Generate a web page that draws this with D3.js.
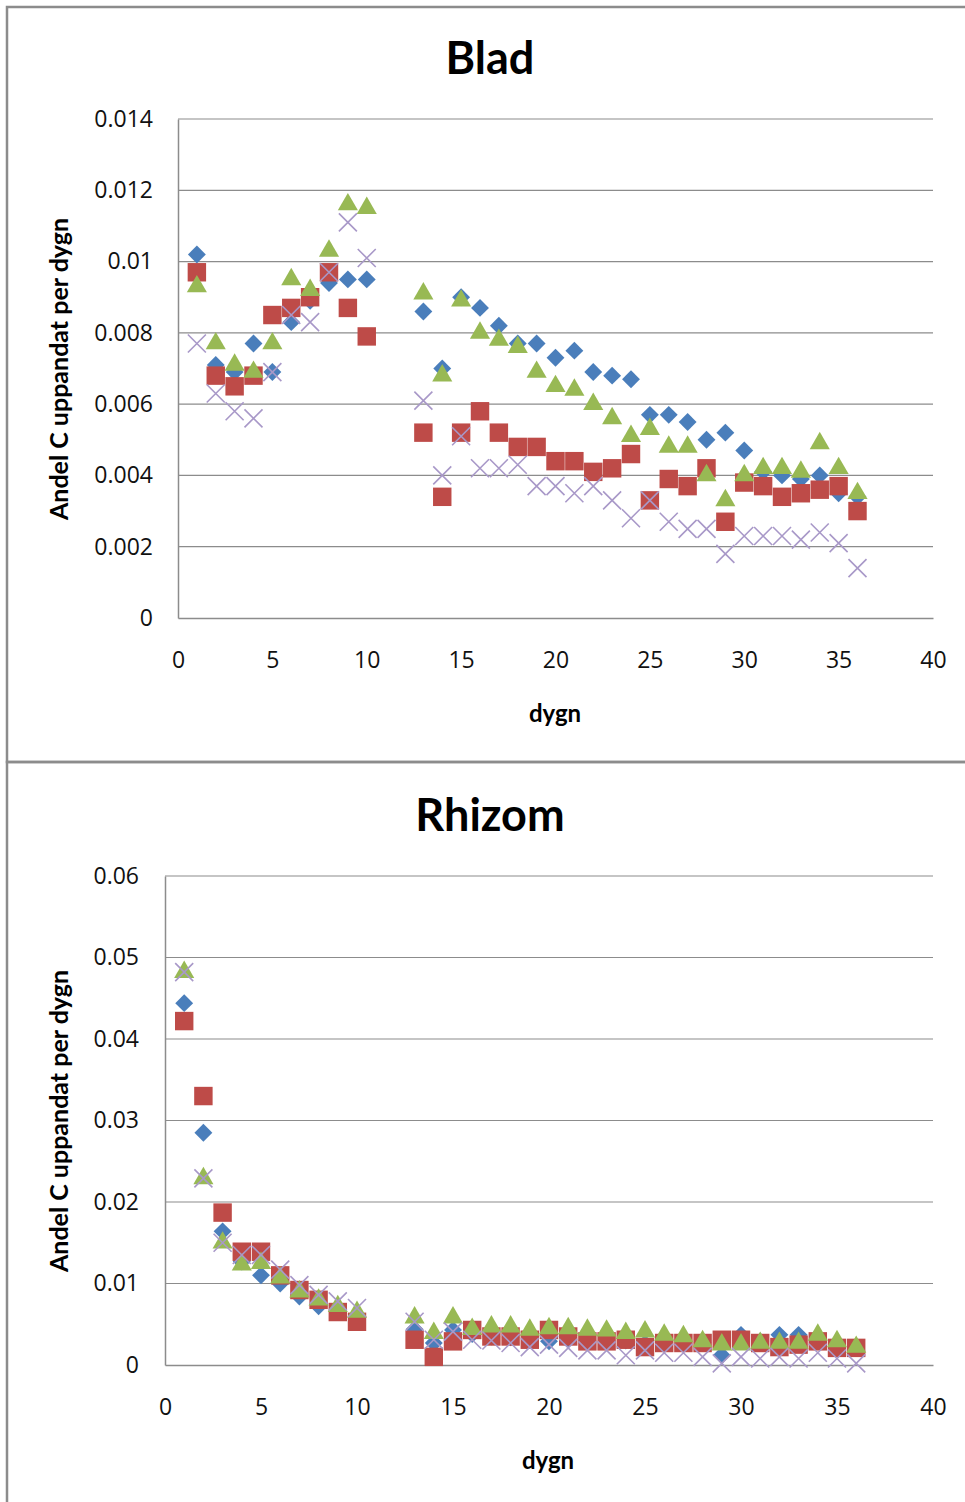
<!DOCTYPE html>
<html>
<head>
<meta charset="utf-8">
<script src="https://cdn.jsdelivr.net/npm/d3@7"></script>
<style>
  body { margin: 0; background: #fff; }
  svg { display: block; }
</style>
</head>
<body>
<div id="chart"></div>
<script>
// days 1-10 and 13-36 (11 and 12 missing)
const days = [1,2,3,4,5,6,7,8,9,10,13,14,15,16,17,18,19,20,21,22,23,24,25,26,27,28,29,30,31,32,33,34,35,36];

const xTicks = [0, 5, 10, 15, 20, 25, 30, 35, 40];
const bladTicks = [0, 0.002, 0.004, 0.006, 0.008, 0.01, 0.012, 0.014];
const rhizomTicks = [0, 0.01, 0.02, 0.03, 0.04, 0.05, 0.06];

// Blad
const bladBlue   = [0.0102,0.0071,0.0069,0.0077,0.0069,0.0083,0.0089,0.0094,0.0095,0.0095,
                    0.0086,0.0070,0.0090,0.0087,0.0082,0.0077,0.0077,0.0073,0.0075,0.0069,0.0068,0.0067,
                    0.0057,0.0057,0.0055,0.0050,0.0052,0.0047,0.0041,0.0040,0.0039,0.0040,0.0035,0.0034];
const bladRed    = [0.0097,0.0068,0.0065,0.0068,0.0085,0.0087,0.0090,0.0097,0.0087,0.0079,
                    0.0052,0.0034,0.0052,0.0058,0.0052,0.0048,0.0048,0.0044,0.0044,0.0041,0.0042,0.0046,
                    0.0033,0.0039,0.0037,0.0042,0.0027,0.0038,0.0037,0.0034,0.0035,0.0036,0.0037,0.0030];
const bladGreen  = [0.0093,0.0077,0.0071,0.0069,0.0077,0.0095,0.0092,0.0103,0.0116,0.0115,
                    0.0091,0.0068,0.0089,0.0080,0.0078,0.0076,0.0069,0.0065,0.0064,0.0060,0.0056,0.0051,
                    0.0053,0.0048,0.0048,0.0040,0.0033,0.0040,0.0042,0.0042,0.0041,0.0049,0.0042,0.0035];
const bladPurple = [0.0077,0.0063,0.0058,0.0056,0.0069,0.0085,0.0083,0.0097,0.0111,0.0101,
                    0.0061,0.0040,0.0051,0.0042,0.0042,0.0043,0.0037,0.0037,0.0035,0.0037,0.0033,0.0028,
                    0.0033,0.0027,0.0025,0.0025,0.0018,0.0023,0.0023,0.0023,0.0022,0.0024,0.0021,0.0014];

// Rhizom
const rhizomBlue   = [0.0444,0.0285,0.0164,0.0127,0.0110,0.0100,0.0084,0.0072,0.0068,0.0060,
                      0.0044,0.0027,0.0043,0.0038,0.0035,0.0034,0.0032,0.0029,0.0032,0.0030,0.0029,0.0030,
                      0.0026,0.0028,0.0027,0.0028,0.0012,0.0037,0.0029,0.0037,0.0037,0.0030,0.0024,0.0022];
const rhizomRed    = [0.0422,0.0330,0.0187,0.0139,0.0139,0.0110,0.0092,0.0080,0.0065,0.0053,
                      0.0031,0.0010,0.0029,0.0043,0.0035,0.0035,0.0031,0.0043,0.0035,0.0029,0.0029,0.0031,
                      0.0022,0.0027,0.0027,0.0027,0.0031,0.0031,0.0027,0.0022,0.0025,0.0029,0.0021,0.0021];
const rhizomGreen  = [0.0482,0.0229,0.0150,0.0123,0.0125,0.0107,0.0090,0.0080,0.0072,0.0065,
                      0.0058,0.0039,0.0058,0.0044,0.0047,0.0047,0.0043,0.0045,0.0045,0.0043,0.0042,0.0039,
                      0.0041,0.0037,0.0035,0.0029,0.0025,0.0025,0.0027,0.0027,0.0027,0.0037,0.0029,0.0022];
const rhizomPurple = [0.0482,0.0229,0.0150,0.0135,0.0135,0.0117,0.0098,0.0086,0.0078,0.0070,
                      0.0053,0.0031,0.0041,0.0031,0.0030,0.0027,0.0022,0.0025,0.0021,0.0018,0.0018,0.0012,
                      0.0018,0.0015,0.0015,0.0010,0.0002,0.0010,0.0008,0.0010,0.0008,0.0015,0.0008,0.0002];

const width = 965;
const height = 1502;
const tickFont = '"Open Sans", sans-serif';
const titleFont = 'Lato, "Open Sans", sans-serif';

let svg = d3.select('#chart')
            .append('svg')
                .attr('width', width)
                .attr('height', height);

// outer frames
svg.append('rect')
    .attr('x', 7).attr('y', 7)
    .attr('width', width + 10).attr('height', 755)
    .attr('fill', 'none').attr('stroke', '#8c8c8c').attr('stroke-width', 2.5);
svg.append('rect')
    .attr('x', 7).attr('y', 762)
    .attr('width', width + 10).attr('height', 760)
    .attr('fill', 'none').attr('stroke', '#8c8c8c').attr('stroke-width', 2.5);

function drawPanel(opts) {
    const xScale = d3.scaleLinear().domain([0, 40]).range([opts.left, 933]);
    const yScale = d3.scaleLinear().domain([0, opts.yMax]).range([opts.bottom, opts.top]);

    let g = svg.append('g');

    // gridlines
    g.selectAll('line.grid')
        .data(opts.yTicks.slice(1))
        .enter()
            .append('line')
                .attr('x1', xScale(0)).attr('x2', xScale(40))
                .attr('y1', d => yScale(d)).attr('y2', d => yScale(d))
                .attr('stroke', '#8c8c8c').attr('stroke-width', 1.2);

    // y-axis
    let yAxis = g.append('g')
        .attr('transform', `translate(${xScale(0)}, 0)`)
        .call(d3.axisLeft(yScale).tickValues(opts.yTicks).tickSize(0).tickPadding(opts.yPad)
              .tickFormat(d => d === 0 ? '0' : String(+d.toFixed(4))));
    // x-axis
    let xAxis = g.append('g')
        .attr('transform', `translate(0, ${opts.bottom})`)
        .call(d3.axisBottom(xScale).tickValues(xTicks).tickSize(0).tickPadding(opts.xPad));

    [yAxis, xAxis].forEach(a => {
        a.select('.domain').attr('stroke', '#8c8c8c').attr('stroke-width', 1.5);
        a.selectAll('text')
            .attr('font-family', tickFont)
            .attr('font-size', 23)
            .attr('fill', '#111');
    });

    // title
    svg.append('text')
        .attr('x', opts.titleX).attr('y', opts.titleY)
        .attr('text-anchor', 'middle')
        .attr('font-family', titleFont).attr('font-weight', 'bold')
        .attr('font-size', 45)
        .text(opts.title);

    // x-axis label
    svg.append('text')
        .attr('x', opts.xLabelX).attr('y', opts.xLabelY)
        .attr('text-anchor', 'middle')
        .attr('font-family', titleFont).attr('font-weight', 'bold')
        .attr('font-size', 24)
        .text('dygn');

    // y-axis label
    svg.append('text')
        .attr('transform', `translate(${opts.yLabelX}, ${opts.yLabelY}) rotate(-90)`)
        .attr('text-anchor', 'middle')
        .attr('font-family', titleFont).attr('font-weight', 'bold')
        .attr('font-size', 25)
        .text('Andel C uppandat per dygn');

    const series = [
        { values: opts.blue,   kind: 'diamond' },
        { values: opts.red,    kind: 'square' },
        { values: opts.green,  kind: 'triangle' },
        { values: opts.purple, kind: 'cross' }
    ];

    series.forEach(s => {
        const pts = days.map((d, i) => ({ day: d, v: s.values[i] }));
        let marks = g.append('g').selectAll('path')
            .data(pts)
            .enter()
                .append('path')
                    .attr('transform', d => `translate(${xScale(d.day)}, ${yScale(d.v)})`);
        if (s.kind === 'diamond') {
            marks.attr('d', d3.symbol(d3.symbolSquare, 160)())
                 .attr('transform', d => `translate(${xScale(d.day)}, ${yScale(d.v)}) rotate(45)`)
                 .attr('fill', '#4a7ebb');
        } else if (s.kind === 'square') {
            marks.attr('d', d3.symbol(d3.symbolSquare, 340)())
                 .attr('fill', '#be4b48');
        } else if (s.kind === 'triangle') {
            marks.attr('d', d3.symbol(d3.symbolTriangle, 175)())
                 .attr('fill', '#98b954');
        } else {
            marks.attr('d', 'M-9,-9L9,9M-9,9L9,-9')
                 .attr('fill', 'none')
                 .attr('stroke', '#a898c8')
                 .attr('stroke-width', 1.6);
        }
    });
}

drawPanel({
    title: 'Blad', titleX: 490, titleY: 74,
    left: 178, top: 119, bottom: 618,
    yMax: 0.014, yTicks: bladTicks, yPad: 25, xPad: 34,
    blue: bladBlue, red: bladRed, green: bladGreen, purple: bladPurple,
    xLabelX: 555, xLabelY: 722,
    yLabelX: 68, yLabelY: 369
});

drawPanel({
    title: 'Rhizom', titleX: 490, titleY: 831,
    left: 165, top: 876, bottom: 1365,
    yMax: 0.06, yTicks: rhizomTicks, yPad: 26, xPad: 34,
    blue: rhizomBlue, red: rhizomRed, green: rhizomGreen, purple: rhizomPurple,
    xLabelX: 548, xLabelY: 1469,
    yLabelX: 68, yLabelY: 1121
});
</script>
</body>
</html>
